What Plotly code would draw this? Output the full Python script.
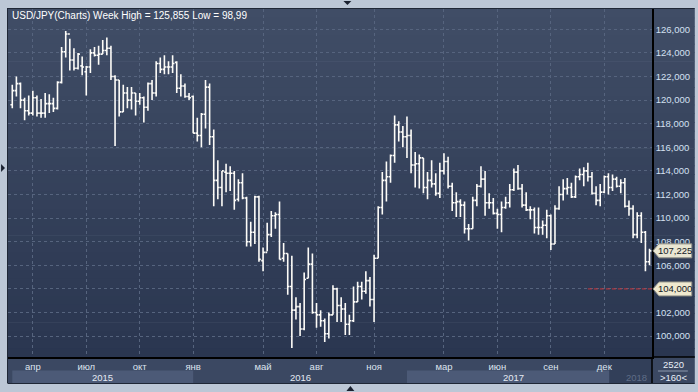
import plotly.graph_objects as go
import pandas as pd

# ---------------- data (weekly USD/JPY bars) ----------------
start_date = "2015-03-02"
opens = [
    119.6, 120.8, 121.4, 120.0, 119.1, 118.9, 120.2, 118.9, 118.9, 119.7,
    119.7, 119.3, 121.5, 124.1, 125.6, 123.4, 122.7, 122.9, 122.4, 122.8,
    124.0, 123.8, 123.9, 124.2, 124.4, 122.0, 121.7, 119.0, 120.6, 120.0,
    120.6, 119.9, 120.2, 119.4, 121.4, 120.6, 123.1, 122.6, 122.8, 122.8,
    123.2, 121.0, 121.2, 120.3, 120.3, 117.2, 117.0, 118.8, 121.1, 116.9,
    113.2, 112.6, 113.9, 113.8, 113.8, 111.6, 113.0, 111.7, 108.0, 108.8,
    111.8, 106.4, 107.1, 108.6, 110.2, 110.3, 106.6, 107.0, 104.2, 102.2,
    102.5, 100.6, 104.9, 106.1, 102.0, 101.8, 101.3, 100.2, 101.8, 104.0,
    102.6, 102.3, 101.0, 101.3, 102.9, 104.2, 103.8, 104.7, 103.1, 106.6,
    110.9, 113.2, 113.5, 115.3, 117.9, 117.3, 116.9, 117.0, 114.5, 114.6,
    115.1, 112.6, 113.2, 112.9, 112.1, 114.0, 114.8, 112.7, 111.3, 111.4,
    111.1, 109.1, 109.1, 111.5, 112.7, 113.3, 111.3, 111.3, 110.4, 110.3,
    110.9, 111.3, 112.4, 113.9, 112.5, 111.1, 110.7, 110.7, 109.2, 109.2,
    109.4, 110.2, 107.8, 110.8, 112.0, 112.5, 112.6, 111.8, 113.5, 113.7,
    114.0, 113.5, 112.1, 111.5, 112.2, 113.5, 112.6, 113.3, 112.7, 113.0,
    111.0, 110.8, 108.6, 110.2, 108.8, 106.3,
]
highs = [
    121.3, 122.0, 121.5, 120.2, 120.4, 120.8, 120.4, 120.1, 120.6, 120.5,
    120.2, 121.6, 124.5, 125.86, 125.2, 124.4, 124.0, 123.7, 122.9, 124.3,
    124.5, 124.6, 125.1, 125.3, 124.6, 122.1, 121.7, 121.3, 121.1, 121.1,
    120.6, 120.6, 120.3, 121.5, 121.7, 123.3, 123.6, 123.8, 123.3, 123.8,
    123.3, 122.2, 121.4, 120.6, 120.4, 118.5, 118.9, 121.7, 121.4, 117.5,
    114.9, 114.0, 114.6, 114.4, 114.0, 113.3, 113.8, 111.8, 109.7, 111.9,
    111.9, 107.5, 109.6, 110.6, 110.5, 111.4, 107.9, 107.0, 106.8, 103.3,
    102.8, 105.4, 107.5, 107.0, 102.8, 102.2, 101.5, 102.0, 104.3, 104.1,
    103.3, 102.8, 101.8, 104.2, 104.6, 104.6, 105.5, 105.0, 106.9, 111.0,
    113.9, 114.8, 115.4, 118.7, 118.2, 117.8, 118.6, 117.5, 115.6, 115.4,
    115.1, 113.9, 114.9, 113.8, 114.7, 115.5, 115.2, 113.0, 112.2, 111.6,
    111.4, 109.5, 111.8, 112.9, 114.4, 114.0, 112.1, 111.7, 110.8, 111.4,
    111.8, 112.9, 114.2, 114.5, 112.9, 112.2, 111.0, 110.9, 110.9, 109.8,
    110.7, 110.3, 111.1, 112.7, 113.3, 113.4, 113.0, 113.6, 114.2, 114.3,
    114.7, 113.9, 112.7, 112.9, 113.6, 113.8, 113.7, 113.5, 113.3, 113.4,
    111.5, 111.1, 110.5, 110.5, 108.9, 107.4,
]
lows = [
    119.3, 120.3, 119.3, 118.3, 118.7, 118.7, 118.6, 118.5, 118.5, 118.9,
    119.0, 119.2, 121.4, 123.6, 122.5, 122.5, 122.6, 122.1, 120.4, 122.3,
    123.7, 123.0, 123.9, 123.8, 121.7, 116.1, 118.6, 119.0, 119.3, 119.2,
    118.7, 119.6, 118.1, 119.1, 120.0, 120.3, 122.3, 122.2, 122.2, 122.3,
    120.6, 120.3, 120.2, 120.0, 117.2, 116.5, 116.0, 117.6, 116.2, 111.0,
    111.6, 111.0, 112.2, 112.3, 110.7, 111.4, 111.6, 107.6, 107.6, 107.8,
    106.3, 105.5, 107.2, 108.4, 109.1, 106.5, 106.3, 103.5, 99.0, 101.4,
    100.0, 100.5, 104.9, 101.9, 100.7, 100.8, 99.5, 99.8, 101.8, 101.2,
    101.2, 100.1, 100.1, 101.2, 102.9, 103.1, 103.6, 102.5, 101.2, 106.6,
    110.3, 111.4, 113.0, 114.7, 116.5, 116.0, 115.1, 113.8, 112.6, 112.5,
    112.1, 111.6, 112.6, 111.9, 111.7, 113.7, 112.5, 110.6, 110.1, 110.1,
    108.7, 108.1, 109.1, 111.0, 112.6, 110.2, 110.8, 110.3, 109.1, 108.8,
    110.8, 110.9, 112.3, 112.4, 110.9, 110.6, 109.9, 108.7, 108.6, 108.6,
    108.3, 107.3, 107.8, 110.7, 111.5, 112.0, 111.7, 111.7, 113.2, 112.7,
    113.1, 112.0, 111.1, 111.0, 112.1, 112.0, 112.3, 112.6, 112.1, 110.9,
    110.2, 108.3, 108.3, 107.9, 105.5, 106.0,
]
closes = [
    120.8, 121.4, 120.0, 119.1, 118.9, 120.2, 118.9, 118.9, 119.7, 119.7,
    119.3, 121.5, 124.1, 125.6, 123.4, 122.7, 123.9, 122.8, 122.8, 124.0,
    123.8, 123.9, 124.2, 124.4, 122.0, 121.7, 119.0, 120.6, 120.0, 120.6,
    119.9, 120.2, 119.4, 121.4, 120.6, 123.1, 122.6, 122.8, 122.8, 123.1,
    121.0, 121.2, 120.3, 120.2, 117.2, 117.0, 118.8, 121.1, 116.9, 113.2,
    112.6, 114.0, 113.8, 113.8, 111.5, 113.0, 111.7, 108.0, 108.8, 111.8,
    106.5, 107.1, 108.6, 110.2, 110.3, 106.5, 107.0, 104.2, 102.2, 102.5,
    100.6, 104.8, 106.1, 102.0, 101.8, 101.3, 100.2, 101.8, 104.0, 102.6,
    102.3, 101.0, 101.3, 102.9, 104.2, 103.8, 104.7, 103.1, 106.6, 110.9,
    113.2, 113.5, 115.3, 117.9, 117.3, 116.9, 117.0, 114.5, 114.6, 115.1,
    112.6, 113.2, 112.9, 112.1, 114.0, 114.8, 112.7, 111.3, 111.4, 111.1,
    109.1, 109.1, 111.5, 112.7, 113.3, 111.3, 111.3, 110.4, 110.3, 110.9,
    111.3, 112.4, 113.9, 112.5, 111.1, 110.7, 110.7, 109.2, 109.2, 109.4,
    110.2, 107.8, 110.8, 112.0, 112.5, 112.6, 111.8, 113.5, 113.7, 114.0,
    113.5, 112.1, 111.5, 112.2, 113.5, 112.6, 113.3, 112.7, 113.0, 111.0,
    110.8, 108.6, 110.2, 108.8, 106.3, 107.225,
]
month_ticks = ["2015-04", "2015-07", "2015-10", "2016-01", "2016-05", "2016-08",
               "2016-11", "2017-03", "2017-06", "2017-09", "2017-12"]
month_labels = ["апр", "июл", "окт", "янв", "май", "авг", "ноя", "мар", "июн", "сен", "дек"]
year_labels = ["2015", "2016", "2017", "2018"]
y_ticks = [100, 102, 104, 106, 108, 110, 112, 114, 116, 118, 120, 122, 124, 126]
last_price = 107.225
alert_level = 104.0
alert_from = "2017-11"   # the alert line is drawn from this month to the right edge
title_text = "USD/JPY(Charts) Week High = 125,855 Low = 98,99"
bars_total = "2520"
bars_shown = ">160<"

# ---------------- derived ----------------
n = len(closes)
dates = pd.date_range(start_date, periods=n, freq="7D")
idx = list(range(n))
month_key = [d.strftime("%Y-%m") for d in dates]
tick_idx = [month_key.index(m) for m in month_ticks]
year_key = [d.strftime("%Y") for d in dates]
year_first = [year_key.index(y) for y in year_labels]
alert_idx = month_key.index(alert_from)
x_lo, x_hi = -1.04, n - 0.4
y_lo, y_hi = 98.23, 127.72

# y tick texts: the alert marker shows its own value, so that tick text is left blank
y_text = [("" if v == alert_level else ("%.3f" % v).replace(".", ",")) for v in y_ticks]

# ---------------- geometry helpers (pixel -> paper) ----------------
W, H = 698, 392
PL, PR, PT, PB = 8, 655, 9, 357
def px(x):
    return (x - PL) / (PR - PL)
def py(y):
    return (PB - y) / (PB - PT)

FONT = "Liberation Sans"

fig = go.Figure()
fig.add_trace(go.Ohlc(
    x=idx, open=opens, high=highs, low=lows, close=closes,
    increasing=dict(line=dict(color="#fdfcf8", width=1.6)),
    decreasing=dict(line=dict(color="#fdfcf8", width=1.6)),
    tickwidth=0.45, hoverinfo="skip", showlegend=False,
))

shapes = []
# gradient background of plot + right axis panel
top_rgb = (64, 77, 102)
bot_rgb = (42, 54, 80)
nb = 40
for k in range(nb):
    t = k / (nb - 1)
    c = tuple(round(top_rgb[j] + (bot_rgb[j] - top_rgb[j]) * t) for j in range(3))
    y0 = PT + (PB - PT) * k / nb
    y1 = PT + (PB - PT) * (k + 1) / nb + 0.6
    shapes.append(dict(type="rect", xref="paper", yref="paper", layer="below",
                       x0=px(PL), x1=px(W), y0=py(y1), y1=py(y0),
                       fillcolor="rgb(%d,%d,%d)" % c, line=dict(width=0)))
# bottom axis panel
shapes.append(dict(type="rect", xref="paper", yref="paper", layer="below",
                   x0=px(PL), x1=px(W), y0=py(383), y1=py(PB),
                   fillcolor="#3b4862", line=dict(width=0)))
# year bands (alternate)
year_bounds = year_first + [n - 1 + 0.6]
for k, y in enumerate(year_labels):
    if k % 2 == 0:
        shapes.append(dict(type="rect", xref="x", yref="paper", layer="below",
                           x0=year_bounds[k], x1=year_bounds[k + 1], y0=py(383), y1=py(370.5),
                           fillcolor="#4c5a77", line=dict(width=0)))
# current-period box at bottom right of time axis
shapes.append(dict(type="rect", xref="paper", yref="paper", layer="below",
                   x0=px(612), x1=px(PR), y0=py(383), y1=py(PB + 1),
                   fillcolor="#323f59", line=dict(width=0)))
# black separators
shapes.append(dict(type="line", xref="paper", yref="paper", x0=px(PR), x1=px(PR),
                   y0=py(383), y1=py(PB), line=dict(color="#000000", width=1.5)))
shapes.append(dict(type="line", xref="paper", yref="paper", x0=px(PR), x1=px(W),
                   y0=py(PB), y1=py(PB), line=dict(color="#000000", width=1.5)))
# thin separator in bars-count box
shapes.append(dict(type="line", xref="paper", yref="paper", x0=px(661), x1=px(691),
                   y0=py(371), y1=py(371), line=dict(color="#8d99ad", width=1)))
# frame edges
shapes.append(dict(type="line", xref="paper", yref="paper", x0=px(7.5), x1=px(7.5),
                   y0=py(383), y1=py(8), line=dict(color="#1f2736", width=1)))
shapes.append(dict(type="line", xref="paper", yref="paper", x0=px(7.5), x1=px(W),
                   y0=py(8.5), y1=py(8.5), line=dict(color="#1f2736", width=1)))
shapes.append(dict(type="line", xref="paper", yref="paper", x0=px(7.5), x1=px(W),
                   y0=py(383.5), y1=py(383.5), line=dict(color="#1f2736", width=1)))
# alert line (from the alert month to the right edge of the plot)
shapes.append(dict(type="line", xref="x", yref="y", x0=alert_idx, x1=x_hi,
                   y0=alert_level, y1=alert_level,
                   line=dict(color="#c8363c", width=1, dash="4px,2px")))
# price markers (arrow boxes)
for val, fill in [(last_price, "#e9e6d2"), (alert_level, "#efe9cf")]:
    yc = PT + (y_hi - val) / (y_hi - y_lo) * (PB - PT)
    pts = [(656, yc), (662, yc - 7), (695, yc - 7), (695, yc + 7), (662, yc + 7)]
    path = "M " + " L ".join("%.5f,%.5f" % (px(a), py(b)) for a, b in pts) + " Z"
    shapes.append(dict(type="path", xref="paper", yref="paper", path=path,
                       fillcolor=fill, line=dict(color="#8f8f86", width=1), layer="above"))
# navigation triangles on the outer frame
tri = [
    [(345, 1), (353, 1), (349, 5)],
    [(348, 391), (356, 391), (352, 386)],
    [(1, 164), (1, 172), (5, 168)],
]
for t in tri:
    path = "M " + " L ".join("%.5f,%.5f" % (px(a), py(b)) for a, b in t) + " Z"
    shapes.append(dict(type="path", xref="paper", yref="paper", path=path,
                       fillcolor="#1a2130", line=dict(width=0), layer="above"))

annotations = [
    dict(text=title_text, xref="paper", yref="paper", x=px(10), y=py(15),
         xanchor="left", yanchor="middle", showarrow=False,
         font=dict(family=FONT, size=10, color="#ffffff")),
    dict(text=bars_total, xref="paper", yref="paper", x=px(677), y=py(364),
         xanchor="center", yanchor="middle", showarrow=False,
         font=dict(family=FONT, size=9.5, color="#e8eef8")),
    dict(text=bars_shown, xref="paper", yref="paper", x=px(677), y=py(377.5),
         xanchor="center", yanchor="middle", showarrow=False,
         font=dict(family=FONT, size=9.5, color="#e8eef8")),
]
for k, y in enumerate(year_labels):
    xc = (year_bounds[k] + year_bounds[k + 1]) / 2
    annotations.append(dict(text=y, xref="x", yref="paper", x=xc, y=py(377.5),
                            xanchor="center", yanchor="middle", showarrow=False,
                            font=dict(family=FONT, size=9.5,
                                      color="#e4eaf4" if k < 3 else "#5f6d87")))
for val in [last_price, alert_level]:
    annotations.append(dict(text=("%.3f" % val).replace(".", ","), xref="paper", yref="y",
                            x=px(678.5), y=val, xanchor="center", yanchor="middle",
                            showarrow=False, font=dict(family=FONT, size=9.5, color="#141824")))

fig.update_layout(
    width=W, height=H,
    margin=dict(l=PL, r=W - PR, t=PT, b=H - PB, pad=0),
    paper_bgcolor="#bcc7d6",
    plot_bgcolor="rgba(0,0,0,0)",
    separators=",.",
    showlegend=False,
    shapes=shapes,
    annotations=annotations,
    xaxis=dict(
        type="linear", range=[x_lo, x_hi], rangeslider=dict(visible=False),
        tickmode="array", tickvals=tick_idx, ticktext=month_labels,
        showgrid=True, gridcolor="#56647e", gridwidth=1, griddash="3px,3px",
        zeroline=False, showline=True, linecolor="#000000", linewidth=1.5,
        ticks="", tickfont=dict(family=FONT, size=9.5, color="#dde4ef"),
        fixedrange=True,
    ),
    yaxis=dict(
        side="right", range=[y_lo, y_hi],
        tickmode="array", tickvals=y_ticks, ticktext=y_text,
        showgrid=True, gridcolor="#56647e", gridwidth=1, griddash="3px,3px",
        zeroline=False, showline=True, linecolor="#000000", linewidth=1.5,
        ticks="", tickfont=dict(family=FONT, size=9.5, color="#d4e0f2"),
        fixedrange=True,
    ),
)

fig.write_html("out.html", config={"displayModeBar": False})
